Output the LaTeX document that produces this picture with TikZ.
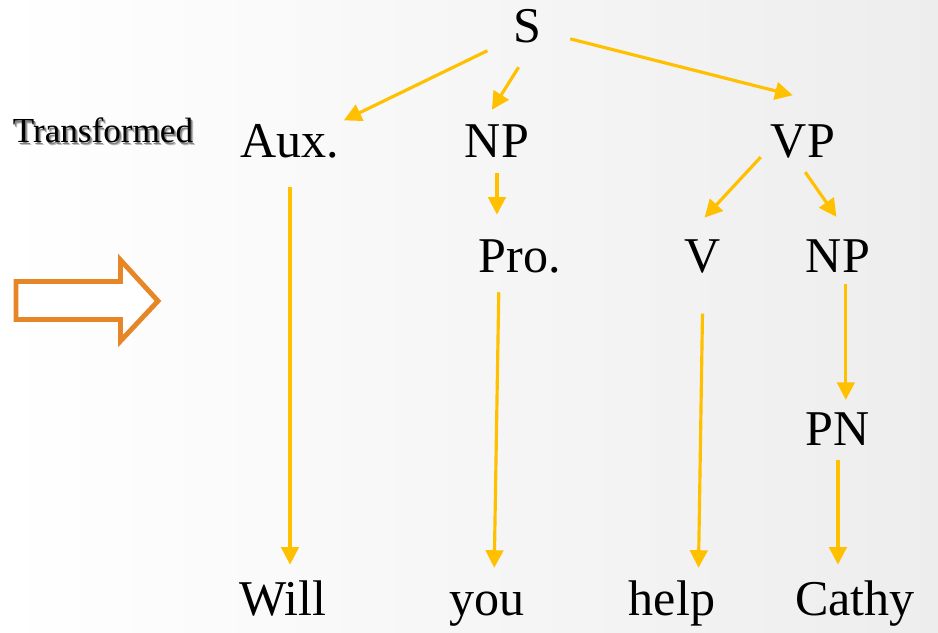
\documentclass[tikz,border=0pt]{standalone}
\usepackage{fontspec}
\setmainfont{Liberation Serif}
\usepackage{tikz}
\usetikzlibrary{positioning,arrows.meta}

\definecolor{treegold}{RGB}{255,192,0}
\definecolor{blockorange}{RGB}{230,134,38}

\begin{document}
\begin{tikzpicture}[
	x=0.02cm, y=-0.02cm, on grid,
	tree/.style={ % 句法树的节点
		inner sep=0pt, text height=19pt, text depth=6pt,
		font=\fontsize{28.5}{34}\selectfont
	},
	branch/.style={ % 树枝
		draw=treegold, line width=1.8pt,
		-{Triangle[length=10pt,width=10pt]}
	},
	caption/.style={inner sep=0pt, font=\fontsize{20}{24}\selectfont}
]
	%% 背景
	\useasboundingbox (0,0) rectangle (938,633);
	\shade[left color=white, middle color=white, right color=black!7] (0,0) rectangle (938,633);

	%% 左侧标注与箭头
	\node[caption, text=black!25] (tfblur) at (105.5,133) {Transformed};
	\node[caption, text=black!50] (tfshadow) at (104.5,132) {Transformed};
	\node[caption] (tf) at (103,130.5) {Transformed};
	\draw[blockorange, fill=white, line width=2.8pt]
		(16,281.5) -- (120.5,281.5) -- (120.5,260) -- (158,301)
		-- (120.5,341) -- (120.5,319.5) -- (16,319.5) -- cycle;

	%% 各个节点
	\node[tree] (S) at (527,31.5) {S};
	\node[tree] (aux) at (290,146.5) {Aux.};
	\node[tree, right=4.14cm of aux] (np1) {NP};
	\node[tree, right=6.12cm of np1] (vp) {VP};
	\node[tree] (pro) at (520,261.5) {Pro.};
	\node[tree, right=3.66cm of pro] (v) {V};
	\node[tree, right=2.7cm of v] (np2) {NP};
	\node[tree, below=3.46cm of np2] (pn) {PN};
	% 句子
	\node[tree] (will) at (283,604.5) {Will};
	\node[tree, right=4.08cm of will] (you) {you};
	\node[tree, right=3.7cm of you] (help) {help};
	\node[tree, right=3.66cm of help] (cathy) {Cathy};

	%% 对各个节点连线
	\draw[branch, shorten <=16pt, shorten >=5pt] (S) -- (aux);
	\draw[branch, shorten <=9pt, shorten >=9.7pt] (S.south) -- ([xshift=-8pt]np1.north);
	\draw[branch, shorten <=17pt, shorten >=6pt] (S.east) -- ([yshift=15pt]vp.north);
	\draw[branch, shorten <=10.4pt, shorten >=10pt] (aux.south) -- (aux.south |- will.north);
	\draw[branch, shorten <=2.5pt, shorten >=14pt] (np1.south) -- (np1.south |- pro.north);
	\draw[branch, shorten <=4.8pt, shorten >=8.2pt] ([xshift=-12pt]pro.south) -- ([xshift=4pt]you.north);
	\draw[branch, shorten <=8.2pt, shorten >=16.8pt] (vp.west) -- (v.north west);
	\draw[branch, shorten <=2.3pt, shorten >=15.5pt] (vp.south) -- ([xshift=8pt]np2.north);
	\draw[branch, shorten <=17pt, shorten >=8.2pt] (v.south) -- ([xshift=15pt]help.north);
	\draw[branch, shorten >=7pt] ([xshift=4.5pt]np2.south) -- ([xshift=4.5pt]np2.south |- pn.north);
	\draw[branch, shorten <=2pt, shorten >=10pt] (pn.south) -- (pn.south |- cathy.north);
\end{tikzpicture}
\end{document}
